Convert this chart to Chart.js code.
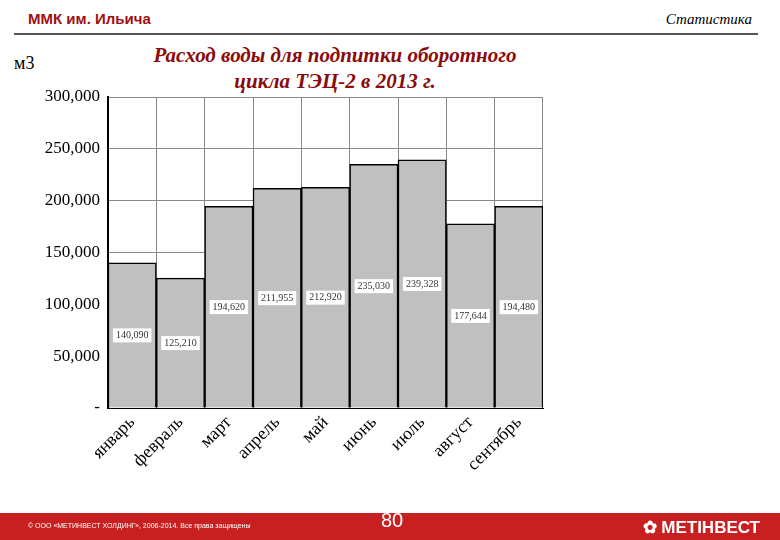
<!DOCTYPE html>
<html><head><meta charset="utf-8">
<script src="https://cdn.jsdelivr.net/npm/chart.js@4"></script>
<style>
body{margin:0;width:780px;height:540px;position:relative;background:#fff;overflow:hidden;font-family:Arial,sans-serif}
#hdr{position:absolute;left:28px;top:10px;color:#a01010;font-size:15px;font-weight:bold}
#stat{position:absolute;right:28px;top:11px;font-family:'Liberation Serif',serif;font-style:italic;font-size:15px}
#line{position:absolute;left:14px;right:22px;top:33px;height:2px;background:#555}
#title{position:absolute;left:130px;width:410px;top:42px;text-align:center;font-family:'Liberation Serif',serif;font-style:italic;font-weight:bold;font-size:21px;color:#8b0a0a;line-height:26px}
#unit{position:absolute;left:14px;top:53px;font-family:'Liberation Serif',serif;font-size:18px}
#foot{position:absolute;left:0;right:0;top:513px;height:27px;background:#c82020;color:#fff}
#copy{position:absolute;left:28px;top:9px;font-size:7px}
#pg{position:absolute;left:381px;top:-4px;font-size:20px}
#logo{position:absolute;right:20px;top:4px;font-size:17px;font-weight:bold}
canvas{position:absolute;left:0;top:0}
</style></head><body>
<div id="hdr">ММК им. Ильича</div><div id="stat">Статистика</div><div id="line"></div>
<div id="unit">м3</div>
<div id="title">Расход воды для подпитки оборотного<br>цикла ТЭЦ-2 в 2013 г.</div>
<canvas id="c" width="780" height="540"></canvas>
<div id="foot"><span id="copy">© ООО «МЕТИНВЕСТ ХОЛДИНГ», 2006-2014. Все права защищены</span><span id="pg">80</span><span id="logo">✿ МЕТІНВЕСТ</span></div>
<script>
const months = ['январь','февраль','март','апрель','май','июнь','июль','август','сентябрь'];
const water = [140090,125210,194620,211955,212920,235030,239328,177644,194480];
const yTicks = [0,50000,100000,150000,200000,250000,300000];

const fmt = v => v.toLocaleString('en-US');
const labelPlugin = {
    id:'vals',
    afterDatasetsDraw(chart){
        const ctx = chart.ctx, y = chart.scales.y;
        ctx.save();
        ctx.font = '10px "Liberation Serif",serif';
        ctx.textAlign='center'; ctx.textBaseline='middle';
        chart.getDatasetMeta(0).data.forEach((bar,i)=>{
            const py = y.getPixelForValue(water[i]/2), t = fmt(water[i]);
            const w = ctx.measureText(t).width + 6;
            ctx.fillStyle='#fff'; ctx.fillRect(bar.x-w/2, py-7, w, 14);
            ctx.fillStyle='#333'; ctx.fillText(t, bar.x, py);
        });
        ctx.restore();
    }
};

new Chart(document.getElementById('c'), {
    type:'bar',
    data:{ labels:months, datasets:[{data:water, backgroundColor:'#c0c0c0', borderColor:'#000', borderWidth:1.5, categoryPercentage:1, barPercentage:1}] },
    options:{
        responsive:false, animation:false,
        layout:{padding:{left:12,top:97,right:237,bottom:0}},
        plugins:{legend:{display:false},tooltip:{enabled:false}},
        scales:{
            y:{min:0,max:300000,afterBuildTicks:a=>{a.ticks=yTicks.map(v=>({value:v}));},
               afterFit:a=>{a.width=96;},
               ticks:{color:'#000',font:{family:'Liberation Serif',size:17},padding:8,callback:v=>v===0?'-':fmt(v)},
               grid:{color:'#888',drawTicks:false}, border:{color:'#000',width:2}},
            x:{afterFit:a=>{a.height=132;},
               grid:{color:'#888',offset:true,drawTicks:false}, border:{color:'#000'},
               ticks:{color:'#000',font:{family:'Liberation Serif',size:18},maxRotation:45,minRotation:45,padding:4}}
        }
    },
    plugins:[labelPlugin]
});
</script>
</body></html>
